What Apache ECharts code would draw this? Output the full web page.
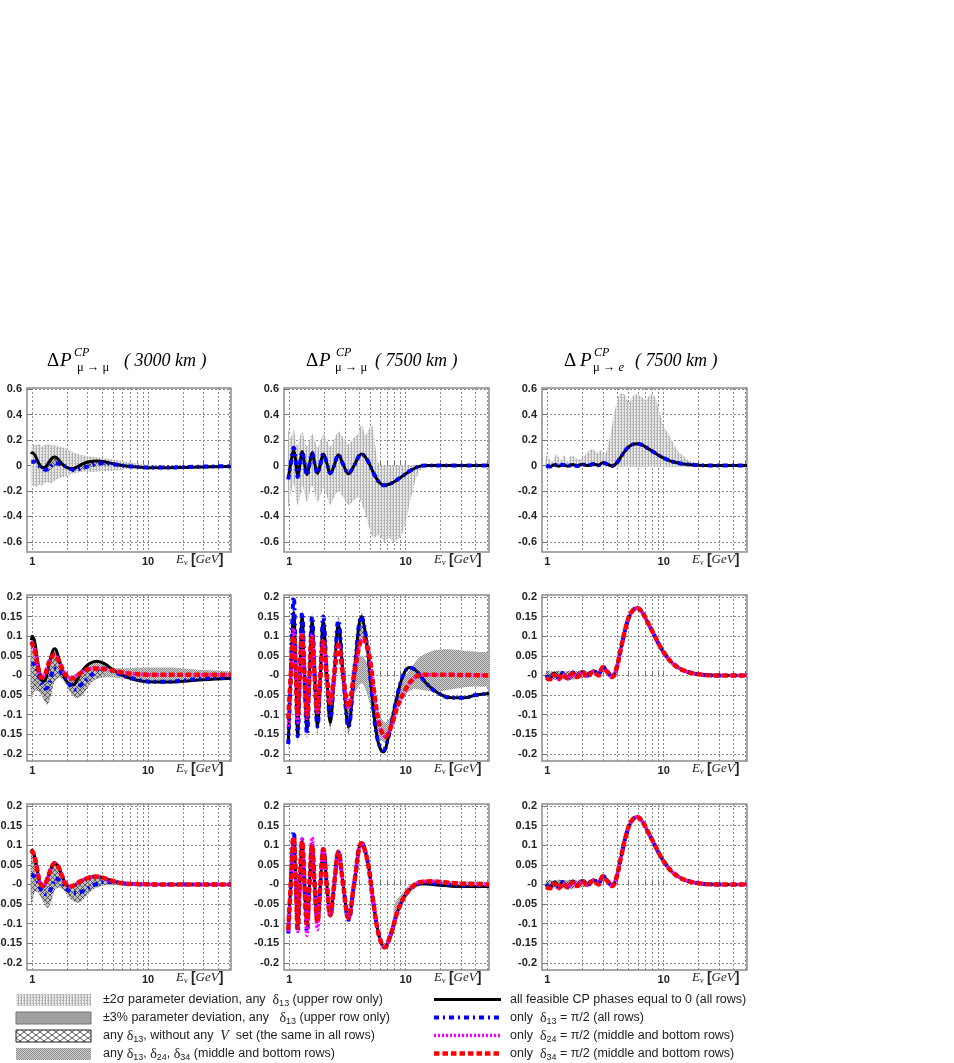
<!DOCTYPE html>
<html>
<head>
<meta charset="utf-8">
<title>CP asymmetries</title>
<script src="https://cdn.jsdelivr.net/npm/echarts@6/dist/echarts.min.js"></script>
<style>
  html, body { margin: 0; padding: 0; background: #fff; }
  #chart { width: 954px; height: 1063px; }
</style>
</head>
<body>
<div id="chart"></div>
<script>
// axis ticks
const xTicks = [1, 2, 3, 4, 5, 6, 7, 8, 9, 10, 20, 30, 40, 50];
const xLabels = [1, 10];
const yTicksTop = [-0.6, -0.4, -0.2, 0, 0.2, 0.4, 0.6];
const yTicksLow = [-0.2, -0.15, -0.1, -0.05, 0, 0.05, 0.1, 0.15, 0.2];
const colDist = ['3000 km', '7500 km', '7500 km'];

// ---- column 1 : mu -> mu, 3000 km
const c1Black = [[0.98,0.09],[1.0,0.1],[1.05,0.085],[1.1,0.045],[1.17,0.0],[1.23,-0.015],[1.3,-0.01],[1.4,0.03],[1.5,0.062],[1.57,0.068],[1.65,0.055],[1.8,0.015],[1.95,-0.012],[2.1,-0.023],[2.25,-0.024],[2.45,-0.01],[2.75,0.015],[3.1,0.03],[3.6,0.036],[4.2,0.03],[5.0,0.014],[6.0,0.001],[7.5,-0.01],[9,-0.015],[11,-0.017],[15,-0.017],[20,-0.015],[30,-0.011],[52,-0.007]];
const c1Blue = [[0.98,0.03],[1.05,0.03],[1.12,0.005],[1.2,-0.02],[1.3,-0.033],[1.38,-0.028],[1.46,0.0],[1.55,0.018],[1.7,0.014],[1.85,0.0],[2.0,-0.014],[2.2,-0.03],[2.35,-0.036],[2.6,-0.025],[3.0,-0.008],[3.5,0.01],[3.9,0.018],[4.5,0.016],[5.2,0.008],[6.5,-0.003],[8.5,-0.012],[11,-0.016],[15,-0.016],[20,-0.013],[30,-0.008],[52,-0.005]];

const r1c1BandE = [0.98,1.03,1.08,1.14,1.2,1.27,1.35,1.45,1.55,1.7,1.85,2.0,2.3,2.6,3.0,3.5,4.0,5.0,6.0,7.5,9.0,10.5];
const r1c1BandUp = [0.15,0.17,0.16,0.17,0.15,0.16,0.17,0.16,0.16,0.15,0.14,0.13,0.1,0.085,0.075,0.065,0.06,0.048,0.035,0.02,0.008,0.0];
const r1c1BandLo = [-0.17,-0.16,-0.17,-0.15,-0.16,-0.14,-0.13,-0.14,-0.12,-0.1,-0.09,-0.08,-0.06,-0.05,-0.05,-0.05,-0.045,-0.04,-0.03,-0.02,-0.008,0.0];
const r1c1HatchE = [1.1,1.2,1.3,1.4,1.5,1.6,1.75,1.9,2.1,2.3,2.6,3.0,3.5,4.0,4.5];
const r1c1HatchUp = [0.04,0.0,-0.01,0.03,0.06,0.065,0.03,0.0,-0.02,-0.02,0.0,0.025,0.035,0.03,0.02];
const r1c1HatchLo = [0.0,-0.03,-0.045,-0.04,-0.015,0.0,0.0,-0.01,-0.03,-0.04,-0.035,-0.02,-0.005,0.0,0.005];

const r2c1Red = [[0.98,0.085],[1.0,0.08],[1.06,0.06],[1.12,0.02],[1.2,-0.005],[1.27,-0.002],[1.35,0.02],[1.45,0.045],[1.56,0.052],[1.68,0.04],[1.85,0.012],[2.0,-0.003],[2.2,-0.008],[2.45,0.0],[2.8,0.012],[3.4,0.018],[4.5,0.015],[5.8,0.008],[7.5,0.004],[10,0.002],[52,0.002]];
const r2c1Magenta = [[0.98,0.088],[1.0,0.082],[1.06,0.062],[1.12,0.022],[1.2,-0.004],[1.27,0.0],[1.35,0.022],[1.45,0.046],[1.56,0.053],[1.68,0.041],[1.85,0.013],[2.0,-0.002],[2.2,-0.007],[2.45,0.001],[2.8,0.012],[3.4,0.018],[4.5,0.015],[5.8,0.008],[7.5,0.004],[10,0.002],[52,0.002]];
const r2c1BandE = [0.98,1.05,1.12,1.2,1.28,1.35,1.45,1.56,1.7,1.85,2.0,2.2,2.4,2.7,3.0,3.5,4.2,5.0,6.0,7.5,10,15,20,30,52];
const r2c1BandUp = [0.1,0.09,0.04,0.01,0.0,0.02,0.05,0.062,0.05,0.02,0.0,0.0,0.005,0.015,0.025,0.035,0.03,0.02,0.018,0.019,0.02,0.02,0.018,0.014,0.009];
const r2c1BandLo = [-0.06,-0.04,-0.04,-0.05,-0.065,-0.075,-0.05,-0.01,0.0,-0.01,-0.025,-0.045,-0.058,-0.05,-0.03,-0.01,-0.005,-0.005,-0.008,-0.012,-0.016,-0.017,-0.016,-0.012,-0.006];
const r2c1HatchE = [0.98,1.05,1.12,1.2,1.28,1.35,1.45,1.56,1.7,1.85,2.0,2.2,2.4,2.7,3.0,3.5,4.2];
const r2c1HatchUp = [0.085,0.07,0.02,-0.005,0.0,0.02,0.045,0.05,0.04,0.012,-0.003,-0.008,0.0,0.012,0.016,0.018,0.015];
const r2c1HatchLo = [-0.05,-0.035,-0.035,-0.048,-0.065,-0.072,-0.05,-0.015,-0.005,-0.012,-0.028,-0.048,-0.056,-0.05,-0.03,-0.01,0.0];

const r3c1Black = [[0.98,0.09],[1.04,0.075],[1.1,0.04],[1.17,0.003],[1.25,-0.004],[1.35,0.015],[1.45,0.04],[1.56,0.055],[1.68,0.045],[1.82,0.02],[1.95,0.0],[2.1,-0.006],[2.3,-0.003],[2.6,0.008],[3.0,0.016],[3.5,0.02],[4.0,0.018],[4.8,0.01],[6.0,0.003],[8,0.001],[12,0.0],[52,0.0]];
const r3c1Red = [[0.98,0.088],[1.04,0.074],[1.1,0.04],[1.17,0.004],[1.25,-0.003],[1.35,0.015],[1.45,0.04],[1.56,0.054],[1.68,0.045],[1.82,0.02],[1.95,0.001],[2.1,-0.005],[2.3,-0.002],[2.6,0.008],[3.0,0.016],[3.5,0.02],[4.0,0.018],[4.8,0.01],[6.0,0.003],[8,0.001],[12,0.0],[52,0.0]];
const r3c1Blue = [[0.98,0.025],[1.05,0.02],[1.12,0.005],[1.2,-0.015],[1.3,-0.025],[1.4,-0.02],[1.5,0.0],[1.58,0.015],[1.7,0.012],[1.85,0.0],[2.05,-0.015],[2.3,-0.022],[2.6,-0.02],[3.0,-0.01],[3.5,0.0],[4.2,0.006],[5.0,0.006],[6.5,0.002],[10,0.0],[52,0.0]];
const r3c1BandE = [0.98,1.05,1.12,1.2,1.28,1.36,1.45,1.56,1.68,1.82,1.95,2.1,2.3,2.55,2.8,3.2,3.6,4.2,5.0,6.0,7.0];
const r3c1BandUp = [0.09,0.07,0.035,0.0,-0.002,0.015,0.04,0.055,0.045,0.02,0.0,-0.004,-0.002,0.008,0.014,0.019,0.02,0.017,0.01,0.004,0.0];
const r3c1BandLo = [-0.05,-0.02,-0.02,-0.035,-0.05,-0.06,-0.045,-0.015,-0.008,-0.012,-0.022,-0.035,-0.044,-0.046,-0.035,-0.018,-0.008,-0.002,0.0,0.0,0.0];

// ---- column 2 : mu -> mu, 7500 km
const r1c2Black = [[0.98,-0.1],[1.03,0.02],[1.09,0.12],[1.14,0.02],[1.18,-0.08],[1.23,0.0],[1.29,0.11],[1.35,0.02],[1.42,-0.07],[1.49,0.01],[1.57,0.1],[1.65,0.02],[1.745,-0.06],[1.85,0.01],[1.96,0.09],[2.1,0.02],[2.25,-0.065],[2.43,0.0],[2.64,0.085],[2.9,0.01],[3.23,-0.065],[3.6,0.0],[4.18,0.09],[4.7,0.04],[5.3,-0.06],[5.9,-0.13],[6.5,-0.155],[7.3,-0.145],[8.2,-0.12],[9.5,-0.08],[11,-0.04],[12.7,-0.01],[15,0.0],[20,0.0],[52,0.0]];
const r1c2Blue = [[0.98,-0.11],[1.03,0.02],[1.09,0.14],[1.14,0.02],[1.18,-0.09],[1.23,0.0],[1.29,0.11],[1.35,0.02],[1.42,-0.075],[1.49,0.01],[1.57,0.1],[1.65,0.02],[1.745,-0.06],[1.85,0.01],[1.96,0.09],[2.1,0.02],[2.25,-0.06],[2.43,0.0],[2.64,0.085],[2.9,0.01],[3.23,-0.06],[3.6,0.0],[4.18,0.09],[4.7,0.04],[5.3,-0.06],[5.9,-0.13],[6.5,-0.155],[7.3,-0.145],[8.2,-0.12],[9.5,-0.08],[11,-0.04],[12.7,-0.01],[15,0.0],[20,0.0],[52,0.0]];
const r1c2BandE = [0.98,1.03,1.09,1.14,1.18,1.23,1.29,1.35,1.42,1.49,1.57,1.65,1.745,1.85,1.96,2.1,2.25,2.43,2.64,2.9,3.23,3.6,3.9,4.18,4.5,4.8,5.1,5.4,5.7,6.0,6.5,7.2,7.8,8.5,9.2,10,10.8,11.5,12.3,13.3,14.3,16];
const r1c2BandUp = [0.28,0.22,0.28,0.19,0.16,0.22,0.27,0.2,0.15,0.2,0.25,0.2,0.14,0.19,0.25,0.2,0.15,0.2,0.27,0.22,0.17,0.22,0.25,0.32,0.24,0.28,0.32,0.2,0.05,0.0,0,0,0,0,0,0,0,0,0,0,0,0];
const r1c2BandLo = [-0.33,-0.22,-0.14,-0.25,-0.31,-0.25,-0.16,-0.21,-0.29,-0.22,-0.16,-0.21,-0.29,-0.24,-0.18,-0.24,-0.31,-0.25,-0.2,-0.25,-0.31,-0.27,-0.25,-0.3,-0.38,-0.47,-0.55,-0.57,-0.55,-0.55,-0.6,-0.57,-0.6,-0.58,-0.55,-0.45,-0.3,-0.2,-0.1,-0.04,-0.01,0.0];

const r2c2Black = [[0.98,-0.17],[1.03,0.0],[1.09,0.16],[1.14,0.0],[1.18,-0.15],[1.23,0.0],[1.29,0.15],[1.35,0.0],[1.42,-0.14],[1.49,0.0],[1.57,0.14],[1.65,0.0],[1.745,-0.13],[1.85,0.0],[1.96,0.14],[2.1,0.0],[2.25,-0.12],[2.43,0.0],[2.64,0.13],[2.9,0.0],[3.23,-0.13],[3.6,0.0],[4.18,0.15],[4.6,0.09],[5.1,-0.04],[5.7,-0.16],[6.4,-0.195],[7.2,-0.15],[8.2,-0.07],[9.5,0.0],[10.8,0.02],[12.5,0.01],[15,-0.02],[19,-0.045],[25,-0.057],[32,-0.057],[40,-0.05],[52,-0.046]];
const r2c2Blue = [[0.98,-0.175],[1.03,0.0],[1.09,0.2],[1.14,0.0],[1.18,-0.155],[1.23,0.0],[1.29,0.16],[1.35,0.0],[1.42,-0.15],[1.49,0.0],[1.57,0.15],[1.65,0.0],[1.745,-0.13],[1.85,0.0],[1.96,0.15],[2.1,0.0],[2.25,-0.11],[2.43,0.0],[2.64,0.14],[2.9,0.0],[3.23,-0.13],[3.6,0.0],[4.18,0.15],[4.6,0.09],[5.1,-0.04],[5.7,-0.16],[6.4,-0.19],[7.2,-0.15],[8.2,-0.07],[9.5,0.0],[10.8,0.02],[12.5,0.01],[15,-0.02],[19,-0.045],[25,-0.057],[32,-0.057],[40,-0.05],[52,-0.046]];
const r2c2Magenta = [[0.98,-0.13],[1.03,0.0],[1.09,0.12],[1.14,0.0],[1.18,-0.12],[1.23,0.0],[1.29,0.11],[1.35,0.0],[1.42,-0.11],[1.49,0.0],[1.57,0.105],[1.65,0.0],[1.745,-0.095],[1.85,0.0],[1.96,0.09],[2.1,0.0],[2.25,-0.075],[2.43,0.0],[2.64,0.08],[2.9,0.0],[3.23,-0.085],[3.6,0.0],[4.3,0.095],[4.8,0.06],[5.4,-0.05],[6.0,-0.13],[6.7,-0.156],[7.5,-0.13],[8.5,-0.08],[10,-0.035],[11.5,-0.01],[13,0.0],[16,0.002],[52,0.0]];
const r2c2Red = [[0.98,-0.11],[1.03,0.0],[1.09,0.1],[1.14,0.0],[1.18,-0.1],[1.23,0.0],[1.29,0.1],[1.35,0.0],[1.42,-0.1],[1.49,0.0],[1.57,0.095],[1.65,0.0],[1.745,-0.09],[1.85,0.0],[1.96,0.085],[2.1,0.0],[2.25,-0.07],[2.43,0.0],[2.64,0.077],[2.9,0.0],[3.23,-0.08],[3.6,0.0],[4.3,0.094],[4.8,0.06],[5.4,-0.05],[6.0,-0.13],[6.7,-0.156],[7.5,-0.13],[8.5,-0.08],[10,-0.035],[11.5,-0.01],[13,0.0],[16,0.002],[52,0.0]];
const r2c2BandE = [3.5,4.2,4.8,5.4,6.0,6.7,7.5,8.5,10,11.5,13,16,20,25,32,40,52];
const r2c2BandUp = [0.03,0.05,0.02,-0.03,-0.1,-0.12,-0.1,-0.05,0.0,0.025,0.045,0.06,0.066,0.066,0.063,0.06,0.055];
const r2c2BandLo = [-0.05,-0.02,-0.06,-0.12,-0.16,-0.17,-0.14,-0.09,-0.05,-0.035,-0.035,-0.04,-0.04,-0.035,-0.03,-0.028,-0.025];
const r2c2HatchE = [0.98,1.03,1.09,1.14,1.18,1.23,1.29,1.35,1.42,1.49,1.57,1.65,1.745,1.85,1.96,2.1,2.25,2.43,2.64,2.9,3.23,3.6,4.18,4.6];
const r2c2HatchUp = [-0.1,0.03,0.19,0.03,-0.1,0.03,0.17,0.03,-0.09,0.03,0.16,0.03,-0.08,0.03,0.16,0.03,-0.07,0.03,0.15,0.03,-0.08,0.03,0.16,0.1];
const r2c2HatchLo = [-0.19,-0.03,0.1,-0.03,-0.17,-0.03,0.1,-0.03,-0.16,-0.03,0.09,-0.03,-0.15,-0.03,0.09,-0.03,-0.14,-0.03,0.09,-0.03,-0.15,-0.03,0.1,0.07];

const r3c2Red = [[0.98,-0.115],[1.03,0.0],[1.09,0.12],[1.14,0.0],[1.18,-0.11],[1.23,0.0],[1.29,0.11],[1.35,0.0],[1.42,-0.1],[1.49,0.0],[1.57,0.1],[1.65,0.0],[1.745,-0.095],[1.85,0.0],[1.96,0.09],[2.1,0.0],[2.25,-0.078],[2.43,0.0],[2.64,0.083],[2.9,0.0],[3.23,-0.085],[3.6,0.0],[4.18,0.105],[4.7,0.06],[5.3,-0.05],[5.9,-0.13],[6.6,-0.16],[7.4,-0.13],[8.5,-0.07],[10,-0.025],[12,0.0],[14,0.007],[17,0.008],[22,0.005],[30,0.002],[52,0.0]];
const r3c2Black = [[0.98,-0.115],[1.03,0.0],[1.09,0.12],[1.14,0.0],[1.18,-0.11],[1.23,0.0],[1.29,0.11],[1.35,0.0],[1.42,-0.1],[1.49,0.0],[1.57,0.1],[1.65,0.0],[1.745,-0.095],[1.85,0.0],[1.96,0.09],[2.1,0.0],[2.25,-0.08],[2.43,0.0],[2.64,0.083],[2.9,0.0],[3.23,-0.088],[3.6,0.0],[4.18,0.105],[4.7,0.06],[5.3,-0.05],[5.9,-0.13],[6.6,-0.16],[7.4,-0.13],[8.5,-0.07],[10,-0.025],[12,-0.002],[14,0.002],[17,0.0],[22,-0.003],[30,-0.005],[52,-0.005]];
const r3c2Blue = [[0.98,-0.125],[1.03,0.0],[1.09,0.135],[1.14,0.0],[1.18,-0.12],[1.23,0.0],[1.29,0.115],[1.35,0.0],[1.42,-0.12],[1.49,0.0],[1.57,0.1],[1.65,0.0],[1.745,-0.09],[1.85,0.0],[1.96,0.09],[2.1,0.0],[2.25,-0.08],[2.43,0.0],[2.64,0.082],[2.9,0.0],[3.23,-0.09],[3.6,0.0],[4.18,0.107],[4.7,0.06],[5.3,-0.05],[5.9,-0.13],[6.6,-0.16],[7.4,-0.13],[8.5,-0.07],[10,-0.025],[12,-0.002],[14,0.004],[17,0.003],[22,0.0],[30,-0.002],[52,-0.002]];
const r3c2Magenta = [[0.98,-0.12],[1.03,0.0],[1.09,0.12],[1.14,0.0],[1.18,-0.12],[1.23,0.0],[1.29,0.115],[1.35,0.0],[1.42,-0.13],[1.49,0.0],[1.57,0.12],[1.65,0.0],[1.745,-0.115],[1.85,0.0],[1.96,0.095],[2.1,0.0],[2.25,-0.08],[2.43,0.0],[2.64,0.085],[2.9,0.0],[3.23,-0.087],[3.6,0.0],[4.18,0.105],[4.7,0.06],[5.3,-0.05],[5.9,-0.13],[6.6,-0.16],[7.4,-0.13],[8.5,-0.07],[10,-0.025],[12,0.0],[14,0.007],[17,0.008],[22,0.005],[30,0.002],[52,0.0]];
const r3c2BandE = [8,9.5,11,13,16,20,30,52];
const r3c2BandUp = [-0.05,-0.02,0.0,0.01,0.012,0.01,0.008,0.006];
const r3c2BandLo = [-0.09,-0.05,-0.02,-0.005,-0.004,-0.006,-0.008,-0.008];

// ---- column 3 : mu -> e, 7500 km
const c3Black = [[0.98,0.0],[1.05,-0.008],[1.15,0.006],[1.25,-0.006],[1.35,0.006],[1.5,-0.005],[1.65,0.008],[1.8,-0.003],[2.0,0.01],[2.2,0.0],[2.5,0.012],[2.75,0.002],[3.0,0.022],[3.25,0.012],[3.6,-0.003],[3.9,0.015],[4.3,0.07],[4.8,0.13],[5.3,0.162],[5.9,0.172],[6.5,0.162],[7.3,0.135],[8.2,0.106],[9.4,0.072],[10.5,0.05],[12,0.03],[14.8,0.013],[20,0.003],[30,0],[52,0]];
const c3Red = [[0.98,-0.006],[1.05,-0.01],[1.15,0.002],[1.25,-0.01],[1.35,0.003],[1.5,-0.008],[1.65,0.005],[1.8,-0.004],[2.0,0.008],[2.2,-0.002],[2.5,0.01],[2.75,0.0],[3.0,0.02],[3.25,0.01],[3.6,-0.004],[3.9,0.014],[4.3,0.07],[4.8,0.13],[5.3,0.162],[5.9,0.172],[6.5,0.162],[7.3,0.135],[8.2,0.106],[9.4,0.072],[10.5,0.05],[12,0.03],[14.8,0.013],[20,0.003],[30,0],[52,0]];
const r1c3BandE = [0.98,1.1,1.2,1.3,1.4,1.5,1.6,1.75,1.9,2.1,2.3,2.45,2.7,2.9,3.1,3.3,3.5,3.7,3.9,4.2,4.6,5.0,5.5,5.9,6.4,7.0,7.5,8.0,8.5,8.9,9.5,10.1,11,11.5,12.5,13.6,15,16,18,20,22.8];
const r1c3BandUp = [0.08,0.03,0.09,0.04,0.08,0.03,0.08,0.06,0.05,0.08,0.12,0.13,0.1,0.12,0.08,0.15,0.25,0.38,0.47,0.56,0.56,0.5,0.55,0.56,0.54,0.52,0.55,0.56,0.53,0.47,0.38,0.3,0.25,0.21,0.15,0.1,0.07,0.047,0.025,0.01,0.0];
const r1c3BandLo = [-0.01,-0.01,-0.01,-0.01,-0.01,-0.01,-0.01,-0.01,-0.01,-0.01,-0.01,-0.01,-0.01,-0.01,-0.01,-0.01,-0.01,-0.01,-0.01,-0.01,-0.01,-0.01,-0.01,-0.01,-0.01,-0.01,-0.01,-0.01,-0.01,-0.01,-0.01,-0.01,-0.01,-0.01,-0.01,-0.01,-0.01,-0.01,-0.01,-0.005,0.0];
const c3HatchE = [0.98,1.1,1.25,1.4,1.55,1.7,1.9,2.1,2.4];
const c3HatchUp = [0.012,0.01,0.012,0.01,0.012,0.01,0.012,0.01,0.01];
const c3HatchLo = [-0.012,-0.01,-0.012,-0.01,-0.012,-0.01,-0.008,-0.006,-0.004];

// fill patterns drawn on small canvases
function makePattern (w, h, draw) {
  let c = document.createElement('canvas')
  c.width = w
  c.height = h
  draw(c.getContext('2d'))
  return { image: c, repeat: 'repeat' }
}
const patLight = makePattern(3, 3, function (g) {
  g.fillStyle = '#e6e6e6'; g.fillRect(0, 0, 3, 3)
  g.fillStyle = '#b2b2b2'; g.fillRect(0, 0, 1, 3); g.fillRect(2, 1, 1, 1)
})
const patDots = makePattern(2, 2, function (g) {
  g.fillStyle = '#d2d2d2'; g.fillRect(0, 0, 2, 2)
  g.fillStyle = '#8c8c8c'; g.fillRect(0, 0, 1, 1); g.fillRect(1, 1, 1, 1)
})
const patCross = makePattern(8, 6, function (g) {
  g.fillStyle = '#ffffff'; g.fillRect(0, 0, 8, 6)
  g.strokeStyle = '#333'; g.lineWidth = 0.8
  g.beginPath(); g.moveTo(0, 0); g.lineTo(8, 6); g.moveTo(0, 6); g.lineTo(8, 0); g.stroke()
})
const patDark = makePattern(5, 5, function (g) {
  g.fillStyle = '#bcbcbc'; g.fillRect(0, 0, 5, 5)
  g.strokeStyle = '#333'; g.lineWidth = 0.7
  g.beginPath(); g.moveTo(0, 0); g.lineTo(5, 5); g.moveTo(0, 5); g.lineTo(5, 0); g.stroke()
})

const BLACK = { color: '#000', width: 3, type: 'solid' }
const BLUE = { color: '#0000ff', width: 4, type: [5, 4, 2, 4] }
const MAGENTA = { color: '#ff00ff', width: 3.5, type: [2, 2] }
const RED = { color: '#ff0000', width: 4.5, type: [5.5, 3] }

function band (gi, E, up, lo, fill) {
  return {
    type: 'custom', xAxisIndex: gi, yAxisIndex: gi, silent: true, clip: true,
    data: [[E[0], up[0]]],
    renderItem: function (params, api) {
      let pts = []
      for (let i = 0; i < E.length; i++) pts.push(api.coord([E[i], up[i]]))
      for (let i = E.length - 1; i >= 0; i--) pts.push(api.coord([E[i], lo[i]]))
      return { type: 'polygon', shape: { points: pts, smooth: 0.3 }, style: { fill: fill, stroke: null } }
    }
  }
}
function curve (gi, data, st) {
  return {
    type: 'line', xAxisIndex: gi, yAxisIndex: gi, data: data, smooth: 0.4,
    symbol: 'none', silent: true, lineStyle: { color: st.color, width: st.width, type: st.type }
  }
}

let grids = [], xAxes = [], yAxes = [], series = []
const colLeft = [27, 284, 542]
const colWidth = [204, 205, 205]
const rowTop = [388, 595, 804]
const rowHeight = [164, 166, 166]
const labelFont = { fontFamily: 'Liberation Sans', fontWeight: 'bold', fontSize: 11, color: '#222' }
for (let r = 0; r < 3; r++) {
  for (let c = 0; c < 3; c++) {
    let gi = r * 3 + c
    let yt = r === 0 ? yTicksTop : yTicksLow
    grids.push({
      left: colLeft[c], top: rowTop[r], width: colWidth[c], height: rowHeight[r],
      containLabel: false, outerBoundsMode: 'none',
      show: true, borderColor: '#8c8c8c', borderWidth: 1.5
    })
    xAxes.push({
      gridIndex: gi, type: 'log', logBase: 10, min: 0.9, max: 52,
      axisLine: { show: false },
      axisTick: { customValues: xTicks, inside: true, length: 5, lineStyle: { color: '#777' } },
      axisLabel: Object.assign({ customValues: xLabels, margin: 4, formatter: function (v) { return String(v) } }, labelFont),
      splitLine: { show: true, lineStyle: { color: '#8a8a8a', type: [2, 2], width: 1 } }
    })
    yAxes.push({
      gridIndex: gi, type: 'value', min: r === 0 ? -0.68 : -0.218, max: r === 0 ? 0.61 : 0.205,
      axisLine: { show: false },
      axisTick: { customValues: yt, inside: true, length: 5, lineStyle: { color: '#777' } },
      axisLabel: Object.assign({
        customValues: yt, margin: 5,
        formatter: function (v) {
          if (Math.abs(v) < 1e-9) return r === 0 ? '0' : '-0'
          return String(+v.toFixed(2))
        }
      }, labelFont),
      splitLine: { show: true, lineStyle: { color: '#8a8a8a', type: [2, 2], width: 1 } }
    })
  }
}

// upper row
series.push(band(0, r1c1BandE, r1c1BandUp, r1c1BandLo, patLight))
series.push(band(0, r1c1HatchE, r1c1HatchUp, r1c1HatchLo, patDark))
series.push(curve(0, c1Black, BLACK), curve(0, c1Blue, BLUE))
series.push(band(1, r1c2BandE, r1c2BandUp, r1c2BandLo, patLight))
series.push(curve(1, r1c2Black, BLACK), curve(1, r1c2Blue, BLUE))
series.push(band(2, r1c3BandE, r1c3BandUp, r1c3BandLo, patLight))
series.push(curve(2, c3Black, BLACK), curve(2, c3Black, BLUE))
// middle row
series.push(band(3, r2c1BandE, r2c1BandUp, r2c1BandLo, patDots))
series.push(band(3, r2c1HatchE, r2c1HatchUp, r2c1HatchLo, patDark))
series.push(curve(3, c1Black, BLACK), curve(3, c1Blue, BLUE), curve(3, r2c1Magenta, MAGENTA), curve(3, r2c1Red, RED))
series.push(band(4, r2c2BandE, r2c2BandUp, r2c2BandLo, patDots))
series.push(band(4, r2c2HatchE, r2c2HatchUp, r2c2HatchLo, patDark))
series.push(curve(4, r2c2Black, BLACK), curve(4, r2c2Blue, BLUE), curve(4, r2c2Magenta, MAGENTA), curve(4, r2c2Red, RED))
series.push(band(5, c3HatchE, c3HatchUp, c3HatchLo, patDark))
series.push(curve(5, c3Black, BLACK), curve(5, c3Black, BLUE), curve(5, c3Red, MAGENTA), curve(5, c3Red, RED))
// bottom row
series.push(band(6, r3c1BandE, r3c1BandUp, r3c1BandLo, patDark))
series.push(curve(6, r3c1Black, BLACK), curve(6, r3c1Blue, BLUE), curve(6, r3c1Red, MAGENTA), curve(6, r3c1Red, RED))
series.push(band(7, r3c2BandE, r3c2BandUp, r3c2BandLo, patDots))
series.push(curve(7, r3c2Black, BLACK), curve(7, r3c2Blue, BLUE), curve(7, r3c2Magenta, MAGENTA), curve(7, r3c2Red, RED))
series.push(band(8, c3HatchE, c3HatchUp, c3HatchLo, patDark))
series.push(curve(8, c3Black, BLACK), curve(8, c3Black, BLUE), curve(8, c3Red, MAGENTA), curve(8, c3Red, RED))

// text: column titles, axis names, legend
const serif = 'Liberation Serif'
const subRich = {
  s: { fontFamily: 'Liberation Sans', fontSize: 9, padding: [8, 0, 0, 0], lineHeight: 9, fill: '#222' },
  d: { fontFamily: serif, fontSize: 14, lineHeight: 15, fill: '#222' },
  v: { fontFamily: serif, fontStyle: 'italic', fontSize: 14, lineHeight: 15, fill: '#222' },
  t: { fontFamily: 'Liberation Sans', fontSize: 12.5, lineHeight: 15, fill: '#222' }
}
let graphics = []
const titlePos = [[47, 60, 74, 77, 124], [306, 319, 336, 335, 375], [564, 580, 594, 593, 635]]
for (let c = 0; c < 3; c++) {
  let p = titlePos[c]
  graphics.push(
    { type: 'text', x: p[0], y: 361, silent: true, style: { text: 'Δ', fontFamily: serif, fontSize: 19, fill: '#000', verticalAlign: 'middle' } },
    { type: 'text', x: p[1], y: 361, silent: true, style: { text: 'P', fontFamily: serif, fontStyle: 'italic', fontSize: 19, fill: '#000', verticalAlign: 'middle' } },
    { type: 'text', x: p[2], y: 353, silent: true, style: { text: 'CP', fontFamily: serif, fontStyle: 'italic', fontSize: 12, fill: '#000', verticalAlign: 'middle' } },
    { type: 'text', x: p[3], y: 368, silent: true, style: {
      text: c === 2 ? '{m|μ → }{e|e}' : '{m|μ → μ}', verticalAlign: 'middle',
      rich: { m: { fontFamily: serif, fontSize: 12.5, fill: '#000' }, e: { fontFamily: serif, fontStyle: 'italic', fontSize: 12.5, fill: '#000' } }
    } },
    { type: 'text', x: p[4], y: 361, silent: true, style: { text: '( ' + colDist[c] + ' )', fontFamily: serif, fontStyle: 'italic', fontSize: 18, fill: '#000', verticalAlign: 'middle' } }
  )
}
for (let r = 0; r < 3; r++) {
  for (let c = 0; c < 3; c++) {
    graphics.push({
      type: 'text', x: colLeft[c] + colWidth[c] - 55, y: rowTop[r] + rowHeight[r] + 8, silent: true,
      style: {
        text: '{e|E}{n|ν} {b|[}{g|GeV}{b|]}', verticalAlign: 'middle',
        rich: {
          e: { fontFamily: serif, fontStyle: 'italic', fontSize: 13, lineHeight: 14, fill: '#222' },
          n: { fontFamily: serif, fontSize: 8, padding: [6, 0, 0, 0], lineHeight: 8, fill: '#222' },
          b: { fontFamily: 'Liberation Sans', fontWeight: 'bold', fontSize: 14, lineHeight: 14, fill: '#222' },
          g: { fontFamily: serif, fontStyle: 'italic', fontSize: 13, lineHeight: 14, fill: '#222' }
        }
      }
    })
  }
}

const legendY = [1000, 1018, 1036, 1054]
const bandSwatches = [patLight, '#a0a0a0', patCross, patDots]
const bandTexts = [
  '{t|±2σ parameter deviation, any  }{d|δ}{s|13}{t| (upper row only)}',
  '{t|±3% parameter deviation, any   }{d|δ}{s|13}{t| (upper row only)}',
  '{t|any }{d|δ}{s|13}{t|, without any  }{v|V}{t|  set (the same in all rows)}',
  '{t|any }{d|δ}{s|13}{t|, }{d|δ}{s|24}{t|, }{d|δ}{s|34}{t| (middle and bottom rows)}'
]
const lineSwatches = [BLACK, BLUE, MAGENTA, RED]
const lineTexts = [
  '{t|all feasible CP phases equal to 0 (all rows)}',
  '{t|only  }{d|δ}{s|13}{t| = π/2 (all rows)}',
  '{t|only  }{d|δ}{s|24}{t| = π/2 (middle and bottom rows)}',
  '{t|only  }{d|δ}{s|34}{t| = π/2 (middle and bottom rows)}'
]
for (let i = 0; i < 4; i++) {
  graphics.push({
    type: 'rect', silent: true, shape: { x: 16, y: legendY[i] - 6, width: 75, height: 12 },
    style: { fill: bandSwatches[i], stroke: i === 2 ? '#222' : (i === 1 ? '#777' : null), lineWidth: 1 }
  })
  graphics.push({ type: 'text', x: 103, y: legendY[i], silent: true, style: { text: bandTexts[i], rich: subRich, verticalAlign: 'middle' } })
  let ls = lineSwatches[i]
  graphics.push({
    type: 'line', silent: true, shape: { x1: 434, y1: legendY[i] - 0.5, x2: 501, y2: legendY[i] - 0.5 },
    style: { stroke: ls.color, lineWidth: ls.width, lineDash: ls.type === 'solid' ? null : ls.type }
  })
  graphics.push({ type: 'text', x: 510, y: legendY[i], silent: true, style: { text: lineTexts[i], rich: subRich, verticalAlign: 'middle' } })
}

let myChart = echarts.init(document.getElementById('chart'), null, { renderer: 'canvas' })
myChart.setOption({
  backgroundColor: '#fff',
  animation: false,
  grid: grids,
  xAxis: xAxes,
  yAxis: yAxes,
  series: series,
  graphic: { elements: graphics }
})
</script>
</body>
</html>
